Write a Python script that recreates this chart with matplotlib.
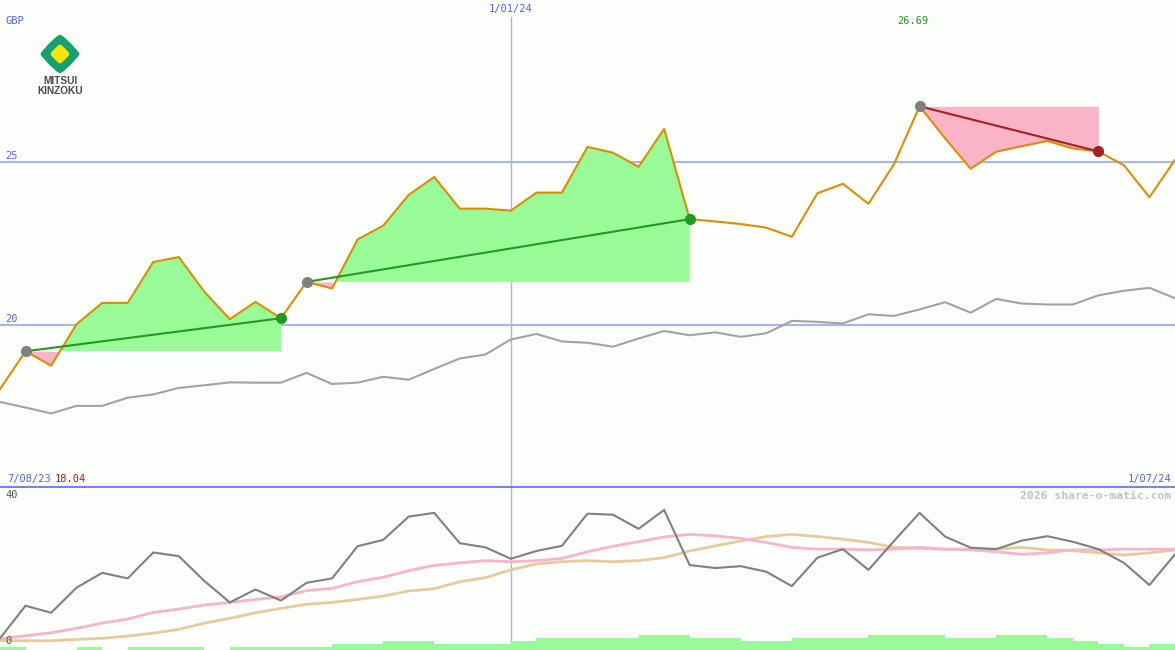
import matplotlib
matplotlib.use('Agg')
import matplotlib.pyplot as plt
import numpy as np
from matplotlib.patches import Polygon
from matplotlib.lines import Line2D

# ---------------- data ----------------
price = [18.04, 19.20, 18.76, 20.03, 20.68, 20.68, 21.93, 22.08, 21.02, 20.18,
         20.71, 20.21, 21.32, 21.12, 22.62, 23.04, 23.98, 24.53, 23.56, 23.56,
         23.50, 24.05, 24.05, 25.45, 25.27, 24.84, 26.00, 23.24, 23.17, 23.09,
         22.98, 22.70, 24.03, 24.32, 23.71, 24.92, 26.69, 25.71, 24.78, 25.30,
         25.47, 25.63, 25.40, 25.31, 24.89, 23.91, 25.05]

relative = [17.65, 17.48, 17.30, 17.53, 17.53, 17.78, 17.88, 18.08, 18.16, 18.25,
            18.24, 18.24, 18.54, 18.20, 18.24, 18.42, 18.33, 18.66, 18.98, 19.10,
            19.56, 19.73, 19.50, 19.46, 19.34, 19.59, 19.82, 19.69, 19.78, 19.64,
            19.75, 20.13, 20.10, 20.05, 20.33, 20.28, 20.48, 20.70, 20.38, 20.80,
            20.66, 20.63, 20.63, 20.91, 21.05, 21.14, 20.82]

oscillator = [1.0, 9.8, 7.9, 14.7, 18.7, 17.2, 24.2, 23.2, 16.5, 10.7,
              14.2, 11.2, 16.0, 17.2, 25.9, 27.6, 33.9, 34.9, 26.7, 25.6,
              22.5, 24.6, 26.0, 34.7, 34.4, 30.6, 35.7, 20.8, 20.0, 20.5,
              19.0, 15.1, 22.8, 25.1, 19.5, 27.3, 34.9, 28.5, 25.5, 25.1,
              27.4, 28.6, 27.1, 25.1, 21.4, 15.4, 23.7]

fast_avg = [0.8, 1.7, 2.5, 3.7, 5.1, 6.2, 8.0, 8.9, 10.0, 10.7,
            11.5, 12.2, 13.9, 14.5, 16.3, 17.5, 19.3, 20.7, 21.4, 22.0,
            21.7, 22.0, 22.6, 24.4, 25.9, 27.1, 28.4, 29.1, 28.7, 28.0,
            26.9, 25.6, 25.1, 25.1, 24.9, 25.1, 25.6, 25.1, 24.9, 24.4,
            23.7, 24.1, 24.9, 24.9, 25.1, 25.1, 25.1]

slow_avg = [0.35, 0.35, 0.35, 0.7, 1.0, 1.6, 2.4, 3.4, 5.1, 6.4,
            7.9, 9.1, 10.2, 10.7, 11.5, 12.4, 13.8, 14.4, 16.3, 17.4,
            19.5, 21.1, 21.7, 22.0, 21.7, 22.0, 22.8, 24.6, 26.0, 27.3,
            28.5, 29.1, 28.5, 27.8, 26.9, 25.6, 25.3, 25.1, 25.1, 25.1,
            25.6, 24.9, 24.7, 24.1, 23.5, 24.1, 24.9]

volume = [1, 0, 0, 1, 0, 1, 1, 1, 0, 1,
          1, 1, 1, 2, 2, 3, 3, 2, 2, 2,
          3, 4, 4, 4, 4, 5, 5, 4, 4, 3,
          3, 4, 4, 4, 5, 5, 5, 4, 4, 5,
          5, 4, 3, 2, 1, 2]

trend_start = [1, 12, 36]
trend_end = [11, 27, 43]

gridlevels = [20, 25]
marker_index = 20
start_label = '7/08/23'
end_label = '1/07/24'
mid_label = '1/01/24'
currency = 'GBP'
high_value = 26.69
low_value = 18.04

# ---------------- style ----------------
BG = '#fbfefb'
BLUE_TXT = '#5464f2'
GRID = '#aab4f0'
ORANGE = '#db8e00'
GREEN_FILL = '#98fb98'
PINK_FILL = '#f9b4c8'
UP = '#229922'
DOWN = '#a82020'
MONO = 'DejaVu Sans Mono'

W, H = 1175, 650
fig = plt.figure(figsize=(W / 100, H / 100), dpi=100, facecolor=BG)

upper_px = 487
axU = fig.add_axes([0, (H - upper_px) / H, 1, upper_px / H])
axL = fig.add_axes([0, 0, 1, (H - upper_px) / H])
for a in (axU, axL):
    a.set_facecolor(BG)
    for s in a.spines.values():
        s.set_visible(False)
    a.set_xticks([])
    a.set_yticks([])
    a.set_xlim(0, len(price) - 1)

x = np.arange(len(price))
p = np.array(price)

# upper panel
axU.set_ylim(15.05, 29.94)
for g in gridlevels:
    axU.axhline(g, color=GRID, lw=1.5, zorder=1)
    axU.annotate(str(g), xy=(0, g), xytext=(5, 6), textcoords='offset pixels',
                 va='center', ha='left', color=BLUE_TXT, fontsize=7.5, family=MONO)
axU.axvline(marker_index, ymax=0.965, color=GRID, lw=1, zorder=1)

for s, e in zip(trend_start, trend_end):
    xs = x[s:e + 1]
    ys = p[s:e + 1]
    lvl = p[s]
    axU.fill_between(xs, ys, lvl, where=ys >= lvl, interpolate=True,
                     color=GREEN_FILL, lw=0, zorder=2)
    axU.fill_between(xs, ys, lvl, where=ys <= lvl, interpolate=True,
                     color=PINK_FILL, lw=0, zorder=2)

axU.plot(x, relative, color='#a3a3a3', lw=1.5, zorder=3)
axU.plot(x, p, color=ORANGE, lw=1.5, zorder=4)

for s, e in zip(trend_start, trend_end):
    col = UP if p[e] >= p[s] else DOWN
    axU.plot([x[s], x[e]], [p[s], p[e]], color=col, lw=1.5, zorder=5)
    axU.plot([x[s]], [p[s]], 'o', color='#808080', ms=8, mec='none', zorder=6)
    axU.plot([x[e]], [p[e]], 'o', color=col, ms=8, mec='none', zorder=6)

# lower panel
axL.set_ylim(-2.16, 41.9)
axL.axvline(marker_index, color=GRID, lw=1, zorder=1)
axV = axL.twinx()
axV.set_ylim(0, 53)
axV.set_axis_off()
axV.bar(np.arange(len(volume)), volume, width=1, align='edge', color=GREEN_FILL,
        lw=0, zorder=2)
axL.plot(x, slow_avg, color='#e6cc9c', lw=2, zorder=3)
axL.plot(x, fast_avg, color='#f8b4c8', lw=2, zorder=3)
axL.plot(x, oscillator, color='#808080', lw=1.5, zorder=4)
axL.annotate('40', xy=(0, 40), xytext=(5, -1), textcoords='offset pixels',
             va='center', ha='left', color='#555555', fontsize=7.5, family=MONO)
axL.annotate('0', xy=(0, 0), xytext=(5, 1), textcoords='offset pixels',
             va='center', ha='left', color='#555555', fontsize=7.5, family=MONO)

# separator
fig.add_artist(Line2D([0, 1], [(H - upper_px) / H] * 2, transform=fig.transFigure,
                      color='#7484f0', lw=1.5))

# overlay in pixel coordinates for labels and logo
ov = fig.add_axes([0, 0, 1, 1], facecolor='none')
ov.set_xlim(0, W)
ov.set_ylim(H, 0)
ov.set_axis_off()

ov.text(5, 21, currency, color=BLUE_TXT, fontsize=7.5, family=MONO, va='center')
ov.text(511, 9, mid_label, color=BLUE_TXT, fontsize=7.5, family=MONO,
        va='center', ha='center')
ov.text(913, 21, f'{high_value:.2f}', color=UP, fontsize=7.5, family=MONO,
        va='center', ha='center')
ov.text(7, 479, start_label, color=BLUE_TXT, fontsize=7.5, family=MONO, va='center')
ov.text(55, 479, f'{low_value:.2f}', color=DOWN, fontsize=7.5, family=MONO, va='center')
ov.text(1171, 479, end_label, color=BLUE_TXT, fontsize=7.5, family=MONO,
        va='center', ha='right')
ov.text(1171, 496, '2026 share-o-matic.com', color='#c2c2c2', fontsize=8.2,
        family=MONO, weight='bold', va='center', ha='right')

# logo
cx, cy = 60, 54
outer = [(cx, cy - 19.5), (cx + 3, cy - 17.8), (cx + 11, cy - 10.5), (cx + 18.5, cy - 2),
         (cx + 19.5, cy), (cx + 18.5, cy + 2), (cx + 11, cy + 10.5), (cx + 3, cy + 17.8),
         (cx, cy + 19.5), (cx - 3, cy + 17.8), (cx - 11, cy + 10.5), (cx - 18.5, cy + 2),
         (cx - 19.5, cy), (cx - 18.5, cy - 2), (cx - 11, cy - 10.5), (cx - 3, cy - 17.8)]
ov.add_patch(Polygon(outer, closed=True, color='#14a072', lw=0))
inner = [(cx, cy - 9.5), (cx + 2, cy - 8.5), (cx + 8.5, cy - 2), (cx + 9.5, cy),
         (cx + 8.5, cy + 2), (cx + 2, cy + 8.5), (cx, cy + 9.5), (cx - 2, cy + 8.5),
         (cx - 8.5, cy + 2), (cx - 9.5, cy), (cx - 8.5, cy - 2), (cx - 2, cy - 8.5)]
ov.add_patch(Polygon(inner, closed=True, color='#f8e600', lw=0))
ov.text(60, 81.5, 'MITSUI', color='#4a4a4a', fontsize=7.3, family='Liberation Sans',
        weight='bold', ha='center', va='center')
ov.text(60, 91, 'KINZOKU', color='#4a4a4a', fontsize=7.3, family='Liberation Sans',
        weight='bold', ha='center', va='center')

fig.savefig('out.png', dpi=100, facecolor=BG)
